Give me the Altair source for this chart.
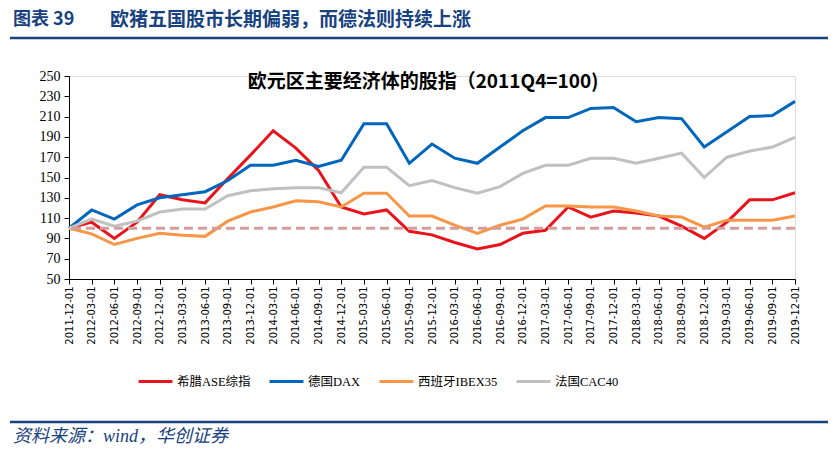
import altair as alt
import pandas as pd

dates = ["2011-12-01","2012-03-01","2012-06-01","2012-09-01","2012-12-01","2013-03-01","2013-06-01","2013-09-01",
         "2013-12-01","2014-03-01","2014-06-01","2014-09-01","2014-12-01","2015-03-01","2015-06-01","2015-09-01",
         "2015-12-01","2016-03-01","2016-06-01","2016-09-01","2016-12-01","2017-03-01","2017-06-01","2017-09-01",
         "2017-12-01","2018-03-01","2018-06-01","2018-09-01","2018-12-01","2019-03-01","2019-06-01","2019-09-01",
         "2019-12-01"]

greece = [100,106,90,106,133,128,125,149,172,196,179,157,121,114,118,97,93.5,86,79.5,84,95,98,121,111,117,115,112,102,90,106,128,128,135]
dax    = [100,118,109,123,130,133,136,147,162,162,167,161,167,203,203,164,183,169,164,180,196,209,209,218,219,205,209,208,180,195,210,211,225]
ibex   = [100,94.5,84,90,95,93,92,107,116,121,127,126,121,134.5,134.5,112,112,103,95,103,109,122,122,121,121,117,112,111,101,108,108,108,112]
cac    = [100,109,102,107,116,119,119,132,137,139,140,140,135,160,160,142,147,140,134.5,141,154,162,162,169,169,164,169,174,150,170,176,180,189.5]

series_names = ["希腊ASE综指", "德国DAX", "西班牙IBEX35", "法国CAC40"]
series_vals = [greece, dax, ibex, cac]
series_colors = ["#E8141C", "#0066BB", "#F79646", "#C0C0C0"]
base_value = [100]

y_ticks = list(range(50, 251, 20))

header_num = "图表 39"
header_text = "欧猪五国股市长期偏弱，而德法则持续上涨"
chart_title = "欧元区主要经济体的股指（2011Q4=100)"
source_text = "资料来源：wind，华创证券"

rows = []
for name, vals in zip(series_names, series_vals):
    for d, v in zip(dates, vals):
        rows.append({"date": d, "value": v, "series": name})
df = pd.DataFrame(rows)

NAVY = "#17427F"
SERIF = "'Liberation Serif', 'Noto Sans CJK SC'"
CJK = "'Noto Sans CJK SC'"

y_scale = alt.Scale(domain=[50, 250], nice=False, zero=False)
y_axis = alt.Axis(title=None, values=y_ticks, grid=False, labelFont=SERIF, labelFontSize=14,
                  labelColor="#000000", domainColor="#000000", tickColor="#000000",
                  tickSize=5, labelPadding=4, labelOverlap=False)

lines = alt.Chart(df).mark_line(strokeWidth=3).encode(
    x=alt.X("date:O", sort=dates, scale=alt.Scale(type="point", padding=0),
            axis=alt.Axis(title=None, labelAngle=-90, labelFont="DejaVu Sans", labelFontSize=10,
                          labelColor="#000000", domainColor="#000000", tickColor="#000000",
                          tickSize=5, labelPadding=2, labelBaseline="middle", labelAlign="right",
                          labelOverlap=False)),
    y=alt.Y("value:Q", scale=y_scale, axis=y_axis),
    color=alt.Color("series:N", sort=series_names,
                    scale=alt.Scale(domain=series_names, range=series_colors),
                    legend=alt.Legend(title=None, orient="none", legendX=68, legendY=287,
                                      direction="horizontal", symbolType="stroke",
                                      symbolSize=1150, symbolStrokeWidth=3,
                                      labelFont=SERIF, labelFontSize=12.5, labelColor="#000000",
                                      labelOffset=3, columnPadding=12, labelLimit=200)),
)

base = alt.Chart(pd.DataFrame({"value": base_value})).mark_rule(
    color="#D59C9C", strokeWidth=3, strokeDash=[9, 5]
).encode(y=alt.Y("value:Q", scale=y_scale, axis=y_axis))

one = pd.DataFrame({"a": [0]})

def text(t, x, y, size, color="#000000", font=CJK, weight="normal", align="left", style="normal"):
    return alt.Chart(pd.DataFrame({"t": [t]})).mark_text(
        align=align, baseline="middle", fontSize=size, font=font, fontWeight=weight,
        color=color, fontStyle=style
    ).encode(text="t:N", x=alt.value(x), y=alt.value(y))

def hline(x1, x2, y, color, w):
    return alt.Chart(one).mark_rule(color=color, strokeWidth=w).encode(
        x=alt.value(x1), x2=alt.value(x2), y=alt.value(y))

layers = [
    lines, base,
    text(header_num, -56, -56, 18, NAVY, CJK, "bold"),
    text(header_text, 41, -56, 19, NAVY, CJK, "bold"),
    hline(-59, 759, -38, NAVY, 2.5),
    text(chart_title, 354, 6, 19, "#000000", CJK, "bold", "center"),
    hline(-59, 759, 346, NAVY, 2.5),
    text(source_text, -56, 361, 18, NAVY, SERIF, "normal", "left", "italic"),
]

chart = alt.layer(*layers).properties(
    width=726, height=203,
    autosize=alt.AutoSizeParams(type="none"),
    padding={"left": 61, "top": 68, "right": 34, "bottom": 168},
).configure_view(stroke=None).configure(background="#FFFFFF")

chart.save("out.html", embed_options={"renderer": "svg", "actions": False})
